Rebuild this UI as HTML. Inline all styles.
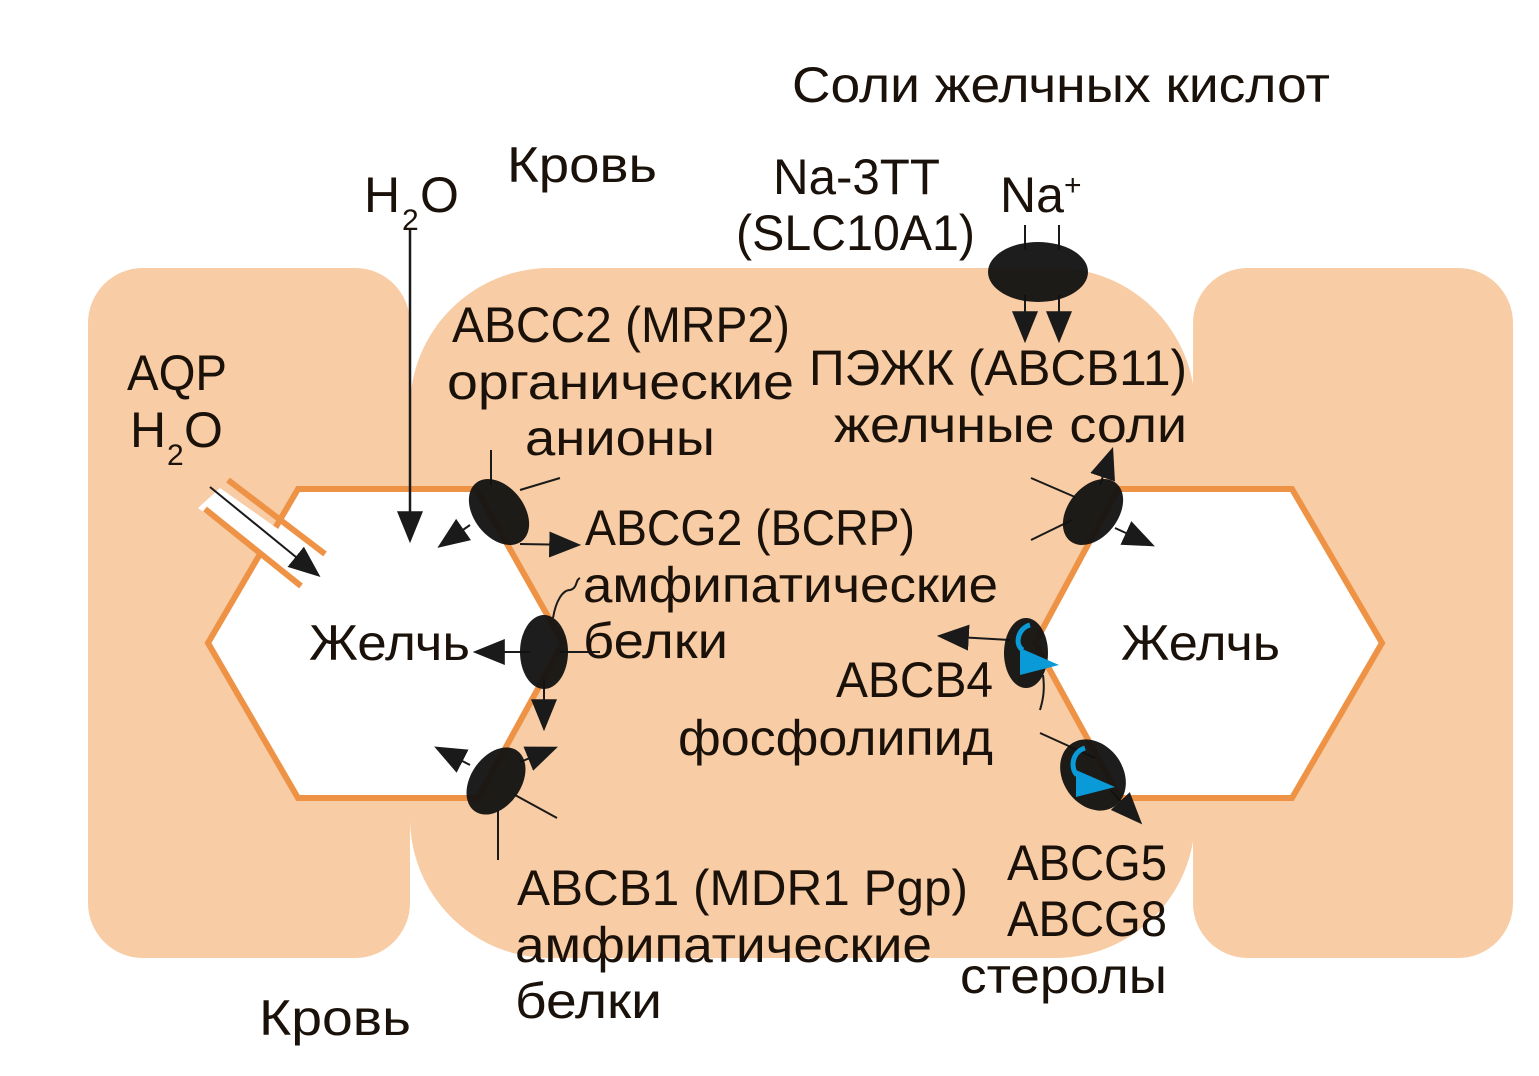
<!DOCTYPE html>
<html><head><meta charset="utf-8"><style>
html,body{margin:0;padding:0;background:#fff}
svg{display:block}
text{font-family:"Liberation Sans","DejaVu Sans",sans-serif;fill:#1a120a}
</style></head><body>
<svg width="1539" height="1076" viewBox="0 0 1539 1076" xmlns="http://www.w3.org/2000/svg">
<defs>
<marker id="b" viewBox="0 0 10 10" refX="9" refY="5" markerWidth="32" markerHeight="26" markerUnits="userSpaceOnUse" orient="auto" preserveAspectRatio="none"><path d="M0,0 L10,5 L0,10 z" fill="#1a1a1a"/></marker>
</defs>
<g fill="#f8cca4">
<rect x="88" y="268" width="322" height="690" rx="55"/>
<rect x="410" y="268" width="785" height="690" rx="140"/>
<rect x="1193" y="268" width="320" height="690" rx="55"/>
</g>
<g fill="#fff" stroke="#ee9346" stroke-width="6">
<polygon points="208,643 298,489 476,489 563,643 478,798 298,798"/>
<polygon points="1035,643 1118,489 1292,489 1382,643 1292,798 1120,798"/>
</g>
<polygon points="220,488 322,560 302,584 198,508" fill="#fff"/>
<line x1="228" y1="480" x2="325" y2="554" stroke="#ee9346" stroke-width="6"/>
<line x1="205" y1="509" x2="301" y2="586" stroke="#ee9346" stroke-width="6"/>
<line x1="210" y1="487" x2="318" y2="575" stroke="#1a1a1a" stroke-width="2" marker-end="url(#b)"/>
<line x1="410" y1="230" x2="410" y2="540" stroke="#1a1a1a" stroke-width="2.5" marker-end="url(#b)"/>
<g stroke="#1a1a1a" stroke-width="2">
<line x1="491" y1="450" x2="491" y2="485"/>
<line x1="520" y1="490" x2="560" y2="478"/>
<line x1="470" y1="525" x2="440" y2="546" marker-end="url(#b)"/>
<line x1="520" y1="544" x2="578" y2="545" marker-end="url(#b)"/>
<line x1="530" y1="652" x2="476" y2="652" marker-end="url(#b)"/>
<line x1="560" y1="652" x2="600" y2="652"/>
<line x1="544" y1="680" x2="544" y2="728" marker-end="url(#b)"/>
<line x1="470" y1="765" x2="437" y2="748" marker-end="url(#b)"/>
<line x1="520" y1="762" x2="555" y2="748" marker-end="url(#b)"/>
<line x1="498" y1="810" x2="498" y2="860"/>
<line x1="515" y1="795" x2="557" y2="818"/>
<path d="M553,618 C556,600 563,590 570,590 C578,588 575,580 580,578" fill="none"/>
<line x1="1025" y1="225" x2="1025" y2="250"/>
<line x1="1059" y1="225" x2="1059" y2="250"/>
<line x1="1025" y1="295" x2="1025" y2="340" marker-end="url(#b)"/>
<line x1="1059" y1="295" x2="1059" y2="340" marker-end="url(#b)"/>
<line x1="1031" y1="478" x2="1075" y2="497"/>
<line x1="1031" y1="540" x2="1072" y2="520"/>
<line x1="1100" y1="485" x2="1112" y2="450" marker-end="url(#b)"/>
<line x1="1115" y1="528" x2="1152" y2="545" marker-end="url(#b)"/>
<line x1="1010" y1="640" x2="940" y2="636" marker-end="url(#b)"/>
<path d="M1043,675 C1045,690 1043,700 1040,710" fill="none"/>
<line x1="1040" y1="733" x2="1095" y2="758"/>
<line x1="1110" y1="790" x2="1140" y2="822" marker-end="url(#b)"/>
</g>
<g fill="#111" fill-opacity="0.95">
<ellipse cx="499" cy="512" rx="25" ry="37" transform="rotate(-38 499 512)"/>
<ellipse cx="544" cy="652" rx="24" ry="37"/>
<ellipse cx="496" cy="781" rx="25" ry="37" transform="rotate(35 496 781)"/>
<ellipse cx="1093" cy="512" rx="25" ry="37" transform="rotate(38 1093 512)"/>
<ellipse cx="1026" cy="653" rx="22" ry="35"/>
<ellipse cx="1093" cy="775" rx="30" ry="38" transform="rotate(-35 1093 775)"/>
<ellipse cx="1038" cy="272" rx="50" ry="30"/>
</g>
<g fill="none" stroke="#0a9ad8" stroke-width="5">
<path d="M1030,625 C1018,628 1014,645 1023,650"/>
<path d="M1085,748 C1072,752 1070,768 1077,775"/>
</g>
<polygon points="1020,648 1059,665 1020,675" fill="#0a9ad8"/>
<polygon points="1076,770 1115,787 1076,797" fill="#0a9ad8"/>
<g font-size="50" lengthAdjust="spacingAndGlyphs">
<text x="792" y="102" textLength="538" lengthAdjust="spacingAndGlyphs">Соли желчных кислот</text>
<text x="507" y="182" textLength="150" lengthAdjust="spacingAndGlyphs">Кровь</text>
<text x="364" y="212">H</text><text x="402" y="230" font-size="30">2</text><text x="420" y="212">O</text>
<text x="773" y="194" textLength="167" lengthAdjust="spacingAndGlyphs">Na-3TT</text>
<text x="736" y="250" textLength="239" lengthAdjust="spacingAndGlyphs">(SLC10A1)</text>
<text x="1000" y="212">Na</text><text x="1064" y="195" font-size="30">+</text>
<text x="127" y="390" textLength="100" lengthAdjust="spacingAndGlyphs">AQP</text>
<text x="130" y="447">H</text><text x="167" y="465" font-size="30">2</text><text x="184" y="447">O</text>
<text x="452" y="342" textLength="338" lengthAdjust="spacingAndGlyphs">ABCC2 (MRP2)</text>
<text x="447" y="399" textLength="347" lengthAdjust="spacingAndGlyphs">органические</text>
<text x="525" y="455" textLength="190" lengthAdjust="spacingAndGlyphs">анионы</text>
<text x="809" y="385" textLength="378" lengthAdjust="spacingAndGlyphs">ПЭЖК (ABCB11)</text>
<text x="834" y="442" textLength="353" lengthAdjust="spacingAndGlyphs">желчные соли</text>
<text x="585" y="545" textLength="330" lengthAdjust="spacingAndGlyphs">ABCG2 (BCRP)</text>
<text x="583" y="602" textLength="415" lengthAdjust="spacingAndGlyphs">амфипатические</text>
<text x="583" y="658" textLength="145" lengthAdjust="spacingAndGlyphs">белки</text>
<text x="309" y="660" textLength="161" lengthAdjust="spacingAndGlyphs">Желчь</text>
<text x="1121" y="660" textLength="159" lengthAdjust="spacingAndGlyphs">Желчь</text>
<text x="836" y="697" textLength="157" lengthAdjust="spacingAndGlyphs">ABCB4</text>
<text x="678" y="755" textLength="315" lengthAdjust="spacingAndGlyphs">фосфолипид</text>
<text x="517" y="905" textLength="451" lengthAdjust="spacingAndGlyphs">ABCB1 (MDR1 Pgp)</text>
<text x="515" y="962" textLength="417" lengthAdjust="spacingAndGlyphs">амфипатические</text>
<text x="515" y="1018" textLength="147" lengthAdjust="spacingAndGlyphs">белки</text>
<text x="1007" y="880" textLength="160" lengthAdjust="spacingAndGlyphs">ABCG5</text>
<text x="1007" y="936" textLength="160" lengthAdjust="spacingAndGlyphs">ABCG8</text>
<text x="960" y="993" textLength="207" lengthAdjust="spacingAndGlyphs">стеролы</text>
<text x="259" y="1035" textLength="152" lengthAdjust="spacingAndGlyphs">Кровь</text>
</g>
</svg>
</body></html>
